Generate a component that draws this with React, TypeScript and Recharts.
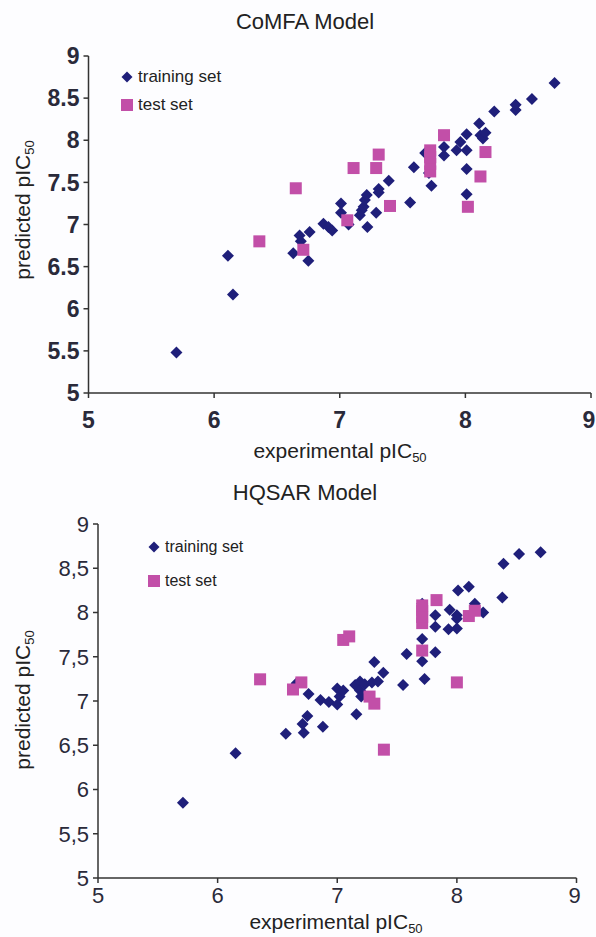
import React from "react";
import { ScatterChart, Scatter, XAxis, YAxis } from "recharts";

// ---------- data ----------
const comfaTraining: [number, number][] = [
  [5.70, 5.48], [6.11, 6.63], [6.15, 6.17], [6.63, 6.66], [6.68, 6.87], [6.69, 6.80],
  [6.75, 6.57], [6.76, 6.91], [6.87, 7.01], [6.91, 6.97], [6.94, 6.93], [7.01, 7.25],
  [7.01, 7.14], [7.07, 7.00], [7.16, 7.11], [7.175, 7.17], [7.19, 7.21], [7.20, 7.29],
  [7.215, 7.35], [7.22, 6.97], [7.29, 7.14], [7.31, 7.42], [7.31, 7.38], [7.39, 7.52],
  [7.56, 7.26], [7.59, 7.68], [7.68, 7.85], [7.71, 7.61], [7.73, 7.46], [7.83, 7.82],
  [7.83, 7.92], [7.93, 7.88], [7.96, 7.98], [8.01, 8.07], [8.01, 7.88], [8.01, 7.66],
  [8.01, 7.36], [8.11, 8.20], [8.12, 8.06], [8.14, 8.02], [8.16, 8.09], [8.23, 8.34],
  [8.40, 8.36], [8.40, 8.42], [8.53, 8.49], [8.71, 8.68],
];
const comfaTest: [number, number][] = [
  [6.36, 6.80], [6.65, 7.43], [6.71, 6.70], [7.06, 7.05], [7.11, 7.67], [7.29, 7.67],
  [7.31, 7.83], [7.40, 7.22], [7.72, 7.63], [7.72, 7.72], [7.72, 7.80], [7.72, 7.88],
  [7.83, 8.06], [8.02, 7.21], [8.12, 7.57], [8.16, 7.86],
];
const hqsarTraining: [number, number][] = [
  [5.71, 5.85], [6.15, 6.41], [6.57, 6.63], [6.66, 7.20], [6.72, 6.64], [6.71, 6.74],
  [6.75, 6.83], [6.76, 7.08], [6.88, 6.71], [6.86, 7.01], [6.93, 6.99], [7.00, 7.14],
  [7.02, 7.05], [7.00, 6.96], [7.05, 7.12], [7.15, 7.18], [7.16, 6.85], [7.19, 7.22],
  [7.19, 7.12], [7.20, 7.05], [7.23, 7.19], [7.29, 7.21], [7.34, 7.22], [7.385, 7.32],
  [7.31, 7.44], [7.55, 7.18], [7.58, 7.53], [7.71, 8.10], [7.71, 7.70], [7.71, 7.45],
  [7.73, 7.25], [7.82, 7.97], [7.82, 7.84], [7.82, 7.55], [7.93, 7.81], [7.94, 8.03],
  [8.00, 7.97], [8.00, 7.82], [8.00, 7.93], [8.01, 8.25], [8.10, 8.29], [8.15, 8.10],
  [8.22, 8.00], [8.38, 8.17], [8.39, 8.55], [8.52, 8.66], [8.70, 8.68],
];
const hqsarTest: [number, number][] = [
  [6.355, 7.245], [6.63, 7.13], [6.70, 7.21], [7.05, 7.69], [7.10, 7.73], [7.27, 7.05],
  [7.31, 6.97], [7.39, 6.45], [7.71, 7.57], [7.71, 7.88], [7.71, 7.95], [7.71, 8.02],
  [7.71, 8.08], [7.83, 8.14], [8.00, 7.21], [8.10, 7.96], [8.15, 8.02],
];
const xTicks = [5, 6, 7, 8, 9];
const yTicks = [5, 5.5, 6, 6.5, 7, 7.5, 8, 8.5, 9];
const topYLabels = ["5", "5.5", "6", "6.5", "7", "7.5", "8", "8.5", "9"];
const bottomYLabels = ["5", "5,5", "6", "6,5", "7", "7,5", "8", "8,5", "9"];
const seriesNames = ["training set", "test set"];
const titles = ["CoMFA Model", "HQSAR Model"];

const NAVY = "#1f1f7a";
const MAGENTA = "#c24fa8";
const AXIS = "#333";
const TICK_FONT = "'Liberation Sans', Arial, sans-serif";
const TEXT_FONT = "'Liberation Sans', Arial, sans-serif";

const toPts = (arr: [number, number][]) => arr.map(([x, y]) => ({ x, y }));

const Diamond = (props: any) => {
  const { cx, cy } = props;
  const r = 6;
  return <polygon points={`${cx},${cy - r} ${cx + r},${cy} ${cx},${cy + r} ${cx - r},${cy}`} fill={NAVY} />;
};
const Square = (props: any) => {
  const { cx, cy } = props;
  const s = 12;
  return <rect x={cx - s / 2} y={cy - s / 2} width={s} height={s} fill={MAGENTA} />;
};

const makeXTick = (fontSize: number, bold: boolean, margin: number) => (props: any) => {
  const { x, y, payload } = props;
  const last = payload.value === xTicks[xTicks.length - 1];
  return (
    <text
      x={last ? x - 2 : x}
      y={y + margin}
      dy="0.71em"
      textAnchor="middle"
      fill="#2a2a3a"
      fontFamily={TICK_FONT}
      fontSize={fontSize}
      fontWeight={bold ? "bold" : "normal"}
    >
      {payload.value}
    </text>
  );
};

const LegendBlock = ({ left, top, gap, fontSize }: any) => (
  <div style={{ position: "absolute", left, top, fontFamily: TEXT_FONT, fontSize, color: "#222" }}>
    <div style={{ display: "flex", alignItems: "center", height: 20 }}>
      <svg width={14} height={14} style={{ marginRight: 4 }}>
        <polygon points="7,1.5 12.5,7 7,12.5 1.5,7" fill={NAVY} />
      </svg>
      <span>{seriesNames[0]}</span>
    </div>
    <div style={{ display: "flex", alignItems: "center", height: 20, marginTop: gap }}>
      <svg width={14} height={14} style={{ marginRight: 4 }}>
        <rect x={1} y={1} width={12} height={12} fill={MAGENTA} />
      </svg>
      <span>{seriesNames[1]}</span>
    </div>
  </div>
);

const Panel = ({ top, height, margin, yWidth, training, test, yLabels, bold, fontSize, xTickMargin }: any) => (
  <div style={{ position: "absolute", left: 0, top }}>
    <ScatterChart width={596} height={height} margin={margin}>
      <XAxis
        type="number"
        dataKey="x"
        domain={[5, 9]}
        ticks={xTicks}
        allowDataOverflow
        height={40}
        tickSize={5}
        stroke={AXIS}
        strokeWidth={1.5}
        tick={makeXTick(fontSize, bold, xTickMargin)}
        interval={0}
      />
      <YAxis
        type="number"
        dataKey="y"
        domain={[5, 9]}
        ticks={yTicks}
        allowDataOverflow
        width={yWidth}
        tickSize={5}
        tickMargin={4}
        stroke={AXIS}
        strokeWidth={1.5}
        interval={0}
        tickFormatter={(v: number) => yLabels[yTicks.indexOf(v)]}
        tick={{ fill: "#2a2a3a", fontFamily: TICK_FONT, fontSize, fontWeight: bold ? "bold" : "normal" }}
      />
      <Scatter data={toPts(training)} shape={Diamond} isAnimationActive={false} />
      <Scatter data={toPts(test)} shape={Square} isAnimationActive={false} />
    </ScatterChart>
  </div>
);

const AxisLabel = ({ left, top, fontSize, rotate, text }: any) => (
  <div
    style={{
      position: "absolute",
      left,
      top,
      fontFamily: TEXT_FONT,
      fontSize,
      color: "#222",
      whiteSpace: "nowrap",
      transform: rotate ? "translate(-50%, -50%) rotate(-90deg)" : "translate(-50%, -50%)",
      lineHeight: 1,
    }}
  >
    {text}
    <sub style={{ fontSize: fontSize * 0.62, verticalAlign: "-0.25em" }}>50</sub>
  </div>
);

const Title = ({ top, text }: any) => (
  <div
    style={{
      position: "absolute",
      left: 305,
      top,
      transform: "translate(-50%, -50%)",
      fontFamily: TEXT_FONT,
      fontSize: 22,
      color: "#222",
      whiteSpace: "nowrap",
    }}
  >
    {text}
  </div>
);

export default function App() {
  return (
    <div style={{ position: "absolute", left: 0, top: 0, width: 596, height: 937, background: "#fdfdff", overflow: "hidden" }}>
      <Panel
        top={0}
        height={470}
        margin={{ top: 56, right: 5, bottom: 37, left: 0 }}
        yWidth={88.5}
        training={comfaTraining}
        test={comfaTest}
        yLabels={topYLabels}
        bold
        fontSize={23}
        xTickMargin={12}
      />
      <Panel
        top={0}
        height={937}
        margin={{ top: 524, right: 19.5, bottom: 19, left: 0 }}
        yWidth={98}
        training={hqsarTraining}
        test={hqsarTest}
        yLabels={bottomYLabels}
        bold={false}
        fontSize={22}
        xTickMargin={2}
      />
      <Title top={22} text={titles[0]} />
      <Title top={493} text={titles[1]} />
      <LegendBlock left={120} top={67} gap={8} fontSize={17} />
      <LegendBlock left={147} top={537} gap={14} fontSize={16} />
      <AxisLabel left={340} top={452} fontSize={21} text="experimental pIC" />
      <AxisLabel left={24} top={210} fontSize={21} rotate text="predicted pIC" />
      <AxisLabel left={336} top={923} fontSize={21} text="experimental pIC" />
      <AxisLabel left={24} top={700} fontSize={21} rotate text="predicted pIC" />
    </div>
  );
}
